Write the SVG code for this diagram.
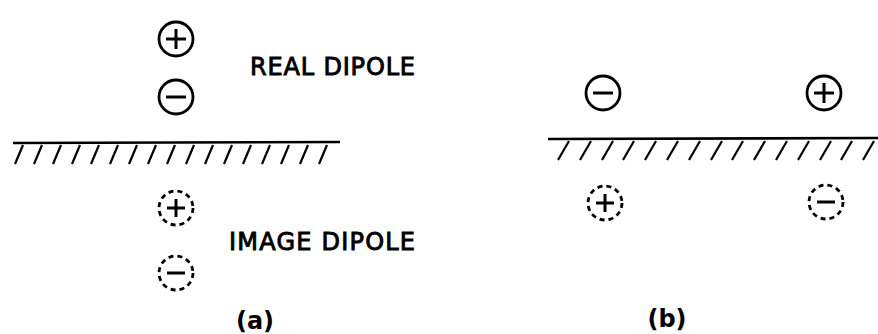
<svg xmlns="http://www.w3.org/2000/svg" width="878" height="334" viewBox="0 0 878 334">
<style>
.c{fill:none;stroke:#000;stroke-width:2.8}
.d{fill:none;stroke:#000;stroke-width:2.8;stroke-dasharray:5 4}
.s{stroke:#000;stroke-width:3;stroke-linecap:butt}
.g{stroke:#000;stroke-width:2.6}
.h{stroke:#000;stroke-width:2.2}
.t{font-family:"DejaVu Sans","Liberation Sans",sans-serif;font-size:24px;fill:#000;stroke:#000;stroke-width:0.9}
.l{font-family:"DejaVu Sans","Liberation Sans",sans-serif;font-size:24px;font-weight:bold;fill:#000}
</style>
<rect width="878" height="334" fill="#fff"/>
<g id="a-real-plus"><circle class="c" cx="176" cy="39" r="17"/><path class="s" d="M166 39H186M176 29V49"/></g>
<g id="a-real-minus"><circle class="c" cx="176" cy="97" r="17"/><path class="s" d="M166 97H186"/></g>
<g id="a-image-plus"><circle class="d" cx="176" cy="208" r="17"/><path class="s" d="M167 208H185M176 199V217"/></g>
<g id="a-image-minus"><circle class="d" cx="176" cy="273" r="17"/><path class="s" d="M167 273H185"/></g>
<g id="a-ground">
<line class="g" x1="13" y1="143" x2="340" y2="142"/>
<path class="h" d="M23 145l-8 19M42 145l-8 19M61 145l-8 19M80 145l-8 19M99 145l-8 19M118 145l-8 19M137 145l-8 19M156 145l-8 19M175 145l-8 19M194 145l-8 19M213 145l-8 19M232 145l-8 19M251 145l-8 19M270 145l-8 19M289 145l-8 19M308 145l-8 19M327 145l-8 19"/>
</g>
<text id="real-label" class="t" x="250" y="75" textLength="165" lengthAdjust="spacing">REAL DIPOLE</text>
<text id="image-label" class="t" x="229" y="250" textLength="186" lengthAdjust="spacing">IMAGE DIPOLE</text>
<text id="label-a" class="l" x="255" y="329" text-anchor="middle">(a)</text>
<g id="b-real-minus"><circle class="c" cx="603" cy="93" r="17"/><path class="s" d="M593 93H613"/></g>
<g id="b-real-plus"><circle class="c" cx="824" cy="93" r="17"/><path class="s" d="M814 93H834M824 83V103"/></g>
<g id="b-image-plus"><circle class="d" cx="605" cy="203" r="17"/><path class="s" d="M596 203H614M605 194V212"/></g>
<g id="b-image-minus"><circle class="d" cx="826" cy="202" r="17"/><path class="s" d="M817 202H835"/></g>
<g id="b-ground">
<line class="g" x1="548" y1="139" x2="878" y2="138"/>
<path class="h" d="M569 141l-11 19M591 141l-11 19M613 141l-11 19M634 141l-11 19M656 141l-11 19M678 141l-11 19M700 141l-11 19M722 141l-11 19M743 141l-11 19M765 141l-11 19M787 141l-11 19M809 141l-11 19M831 141l-11 19M852 141l-11 19M874 141l-11 19"/>
</g>
<text id="label-b" class="l" x="667" y="327" text-anchor="middle">(b)</text>
</svg>
